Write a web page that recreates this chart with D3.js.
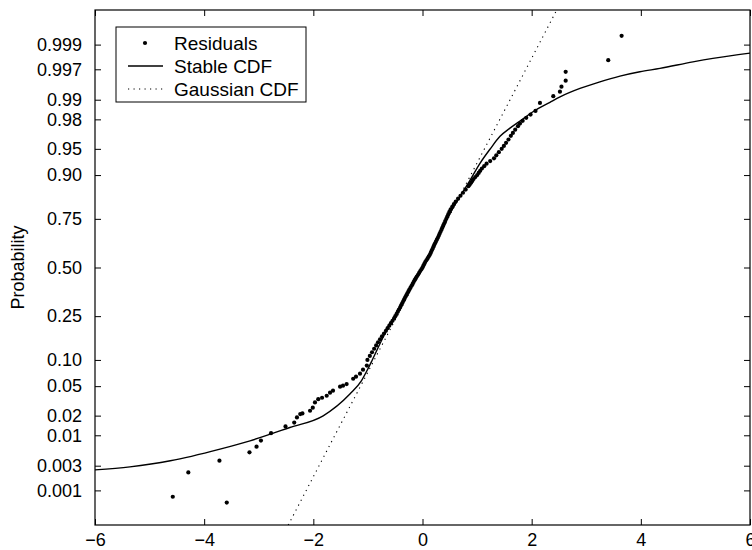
<!DOCTYPE html>
<html><head><meta charset="utf-8">
<script src="https://cdn.jsdelivr.net/npm/d3@7"></script>
<style>
body{margin:0;background:#fff}
text{font-family:"Liberation Sans",Arial,Helvetica,sans-serif;fill:#000}
</style>
</head><body><svg id="c" width="752" height="550"></svg>
<script>
// ---- data ----
const xTicks = [-6, -4, -2, 0, 2, 4, 6];
const probTicks = [0.001, 0.003, 0.01, 0.02, 0.05, 0.10, 0.25, 0.50, 0.75, 0.90, 0.95, 0.98, 0.99, 0.997, 0.999];
const probTickLabels = ["0.001","0.003","0.01","0.02","0.05","0.10","0.25","0.50","0.75","0.90","0.95","0.98","0.99","0.997","0.999"];
const legendLabels = ["Residuals", "Stable CDF", "Gaussian CDF"];

const stableX = [-6, -5.36, -4.62, -3.71, -3.16, -2.43, -1.82, -1.33, -1.12, -1.0, -0.92, -0.78, -0.64, -0.39, -0.20, 0, 0.137, 0.32, 0.504, 0.687, 0.87, 1.053, 1.236, 1.42, 1.603, 1.786, 2.024, 2.335, 2.52, 2.885, 3.25, 3.617, 3.983, 4.35, 4.954, 5.32, 6.0];
const stableP = [0.00251, 0.00286, 0.00368, 0.0059, 0.00813, 0.01328, 0.0199, 0.0397, 0.058, 0.08, 0.10, 0.145, 0.20, 0.30, 0.40, 0.5, 0.5769, 0.6815, 0.7734, 0.838, 0.8865, 0.9256, 0.9494, 0.9655, 0.9733, 0.9788, 0.9846, 0.989, 0.9910, 0.99347, 0.99497, 0.99601, 0.99667, 0.99711, 0.99782, 0.99813, 0.99852];

const gaussX = [-2.6, -1.6, -0.8, 0, 0.8, 1.6, 2.6];
const gaussP = [0.00008, 0.0102, 0.123, 0.5, 0.877, 0.9898, 0.99992];

const residX = [-3.586, -4.575, -4.29, -3.72, -3.17, -3.04, -2.96, -2.775, -2.51, -2.35, -2.30, -2.24, -2.20, -2.06, -2.01, -1.97, -1.91, -1.84, -1.755, -1.694, -1.64, -1.51, -1.456, -1.39, -1.27, -1.218, -1.145, -1.09, -1.02,
 -1.009, -0.965, -0.925, -0.886, -0.849, -0.815, -0.778, -0.742, -0.705, -0.670, -0.639, -0.608, -0.579, -0.549, -0.521, -0.498, -0.474, -0.452, -0.432, -0.410,
 -0.392, -0.373, -0.354, -0.336, -0.317, -0.297, -0.278, -0.258, -0.240, -0.220, -0.200, -0.181, -0.163, -0.145, -0.125, -0.104, -0.082, -0.062, -0.041, -0.020,
 0, 0.016, 0.033, 0.050, 0.071, 0.093, 0.114, 0.134, 0.150, 0.165, 0.180, 0.196, 0.211, 0.228, 0.245, 0.263, 0.281, 0.298, 0.313, 0.330,
 0.348, 0.364, 0.381, 0.399, 0.416, 0.436, 0.454, 0.473, 0.493, 0.516, 0.545, 0.575, 0.609, 0.652, 0.696, 0.742, 0.791, 0.841, 0.866, 0.890, 0.912, 0.934, 0.967,
 1.002, 1.029, 1.057, 1.088, 1.130, 1.174, 1.240, 1.310, 1.352, 1.399, 1.451, 1.491, 1.531, 1.575, 1.619, 1.656, 1.698, 1.749, 1.786, 1.835, 1.901, 1.980, 2.070,
 2.152, 2.396, 2.518, 2.546, 2.623, 2.623, 3.403, 3.648];
const residP = [0.00056, 0.00074, 0.00225, 0.0037, 0.0052, 0.0065, 0.0082, 0.0108, 0.0138, 0.0158, 0.0188, 0.0211, 0.0215, 0.0235, 0.026, 0.0307, 0.034, 0.0355, 0.0377, 0.0413, 0.0438, 0.0493, 0.0506, 0.0531, 0.0615, 0.065, 0.0705, 0.0783, 0.087,
 0.10, 0.11, 0.12, 0.13, 0.14, 0.15, 0.16, 0.17, 0.18, 0.19, 0.20, 0.21, 0.22, 0.23, 0.24, 0.25, 0.26, 0.27, 0.28, 0.29,
 0.30, 0.31, 0.32, 0.33, 0.34, 0.35, 0.36, 0.37, 0.38, 0.39, 0.40, 0.41, 0.42, 0.43, 0.44, 0.45, 0.46, 0.47, 0.48, 0.49,
 0.50, 0.51, 0.52, 0.53, 0.54, 0.55, 0.56, 0.57, 0.58, 0.59, 0.60, 0.61, 0.62, 0.63, 0.64, 0.65, 0.66, 0.67, 0.68, 0.69,
 0.70, 0.71, 0.72, 0.73, 0.74, 0.75, 0.76, 0.77, 0.78, 0.79, 0.80, 0.81, 0.82, 0.83, 0.84, 0.85, 0.86, 0.87, 0.875, 0.88, 0.885, 0.89, 0.895,
 0.90, 0.905, 0.91, 0.915, 0.92, 0.925, 0.93, 0.935, 0.94, 0.945, 0.95, 0.954, 0.958, 0.962, 0.966, 0.969, 0.972, 0.975, 0.977, 0.979, 0.981, 0.983, 0.985,
 0.98875, 0.99123, 0.99261, 0.99391, 0.99520, 0.99666, 0.99798, 0.99934];

// ---- inverse normal CDF (probability axis transform) ----
function probit(p){
  const a=[-3.969683028665376e+01,2.209460984245205e+02,-2.759285104469687e+02,1.383577518672690e+02,-3.066479806614716e+01,2.506628277459239e+00];
  const b=[-5.447609879822406e+01,1.615858368580409e+02,-1.556989798598866e+02,6.680131188771972e+01,-1.328068155288572e+01];
  const c=[-7.784894002430293e-03,-3.223964580411365e-01,-2.400758277161838e+00,-2.549671010229583e+00,4.374664141464968e+00,2.938163982698783e+00];
  const d=[7.784695709041462e-03,3.224671290700398e-01,2.445134137142996e+00,3.754408661907416e+00];
  const pl=0.02425, ph=1-pl; let q,r;
  if(p<pl){q=Math.sqrt(-2*Math.log(p));return (((((c[0]*q+c[1])*q+c[2])*q+c[3])*q+c[4])*q+c[5])/((((d[0]*q+d[1])*q+d[2])*q+d[3])*q+1);}
  if(p<=ph){q=p-0.5;r=q*q;return (((((a[0]*r+a[1])*r+a[2])*r+a[3])*r+a[4])*r+a[5])*q/(((((b[0]*r+b[1])*r+b[2])*r+b[3])*r+b[4])*r+1);}
  q=Math.sqrt(-2*Math.log(1-p));return -(((((c[0]*q+c[1])*q+c[2])*q+c[3])*q+c[4])*q+c[5])/((((d[0]*q+d[1])*q+d[2])*q+d[3])*q+1);
}

// ---- layout ----
const L = 95, R = 750, T = 10, B = 525;
const svg = d3.select("#c");
const x = d3.scaleLinear().domain([-6, 6]).range([L, R]);
const yz = d3.scaleLinear().domain([-3.57, 3.57]).range([B, T]);
const y = p => yz(probit(p));

svg.append("defs").append("clipPath").attr("id","clip")
  .append("rect").attr("x",L).attr("y",T).attr("width",R-L).attr("height",B-T);

const plot = svg.append("g").attr("clip-path","url(#clip)");

// Gaussian CDF (dotted)
const gauss = gaussX.map((v,i)=>[v,gaussP[i]]);
plot.append("path")
  .attr("d", d3.line().x(d=>x(d[0])).y(d=>y(d[1]))(gauss))
  .attr("fill","none").attr("stroke","#000").attr("stroke-width",1.1)
  .attr("stroke-dasharray","1.2,4.3");

// Residuals
const resid = residX.map((v,i)=>[v,residP[i]]);
plot.selectAll("circle.r").data(resid).enter().append("circle")
  .attr("class","r")
  .attr("cx", d=>x(d[0])).attr("cy", d=>y(d[1])).attr("r",2.1).attr("fill","#000");

// Stable CDF
const stable = stableX.map((v,i)=>[v,stableP[i]]);
plot.append("path")
  .attr("d", d3.line().x(d=>x(d[0])).y(d=>y(d[1])).curve(d3.curveMonotoneX)(stable))
  .attr("fill","none").attr("stroke","#000").attr("stroke-width",1.4);

// ---- axes ----
const fs = 18;
const xb = svg.append("g").attr("transform",`translate(0,${B})`)
  .call(d3.axisBottom(x).tickValues(xTicks).tickSize(-6).tickPadding(8));
const xt = svg.append("g").attr("transform",`translate(0,${T})`)
  .call(d3.axisTop(x).tickValues(xTicks).tickSize(-6).tickFormat(""));
const yProbScale = d3.scaleLinear().domain(yz.domain()).range(yz.range());
const probZ = probTicks.map(probit);
const yl = svg.append("g").attr("transform",`translate(${L},0)`)
  .call(d3.axisLeft(yProbScale).tickValues(probZ).tickSize(-6).tickPadding(13)
        .tickFormat((d,i)=>probTickLabels[i]));
const yr = svg.append("g").attr("transform",`translate(${R},0)`)
  .call(d3.axisRight(yProbScale).tickValues(probZ).tickSize(-6).tickFormat(""));
[xb,xt,yl,yr].forEach(g=>{
  g.select(".domain").remove();
  g.selectAll(".tick line").attr("stroke","#000").attr("stroke-width",1);
  g.selectAll("text").attr("font-size",fs).attr("font-family","'Liberation Sans',Arial,sans-serif").attr("fill","#000");
});

// frame
svg.append("rect").attr("x",L).attr("y",T).attr("width",R-L).attr("height",B-T)
  .attr("fill","none").attr("stroke","#000").attr("stroke-width",1.2);

// y label
svg.append("text").attr("transform",`translate(24,${(T+B)/2}) rotate(-90)`)
  .attr("text-anchor","middle").attr("font-size",18).text("Probability");

// ---- legend ----
const lg = svg.append("g");
const lx = 116, ly = 27, lw = 190, lh = 75;
lg.append("rect").attr("x",lx).attr("y",ly).attr("width",lw).attr("height",lh)
  .attr("fill","#fff").attr("stroke","#000").attr("stroke-width",1);
const rowY = [43, 66, 89];
lg.append("circle").attr("cx",145).attr("cy",rowY[0]).attr("r",2.1).attr("fill","#000");
lg.append("line").attr("x1",128).attr("x2",163).attr("y1",rowY[1]).attr("y2",rowY[1])
  .attr("stroke","#000").attr("stroke-width",1.4);
lg.append("line").attr("x1",128).attr("x2",163).attr("y1",rowY[2]).attr("y2",rowY[2])
  .attr("stroke","#000").attr("stroke-width",1.1).attr("stroke-dasharray","1.2,4.3");
legendLabels.forEach((t,i)=>{
  lg.append("text").attr("x",174).attr("y",rowY[i]).attr("dy","0.35em")
    .attr("font-size",19).text(t);
});
</script>
</body></html>
